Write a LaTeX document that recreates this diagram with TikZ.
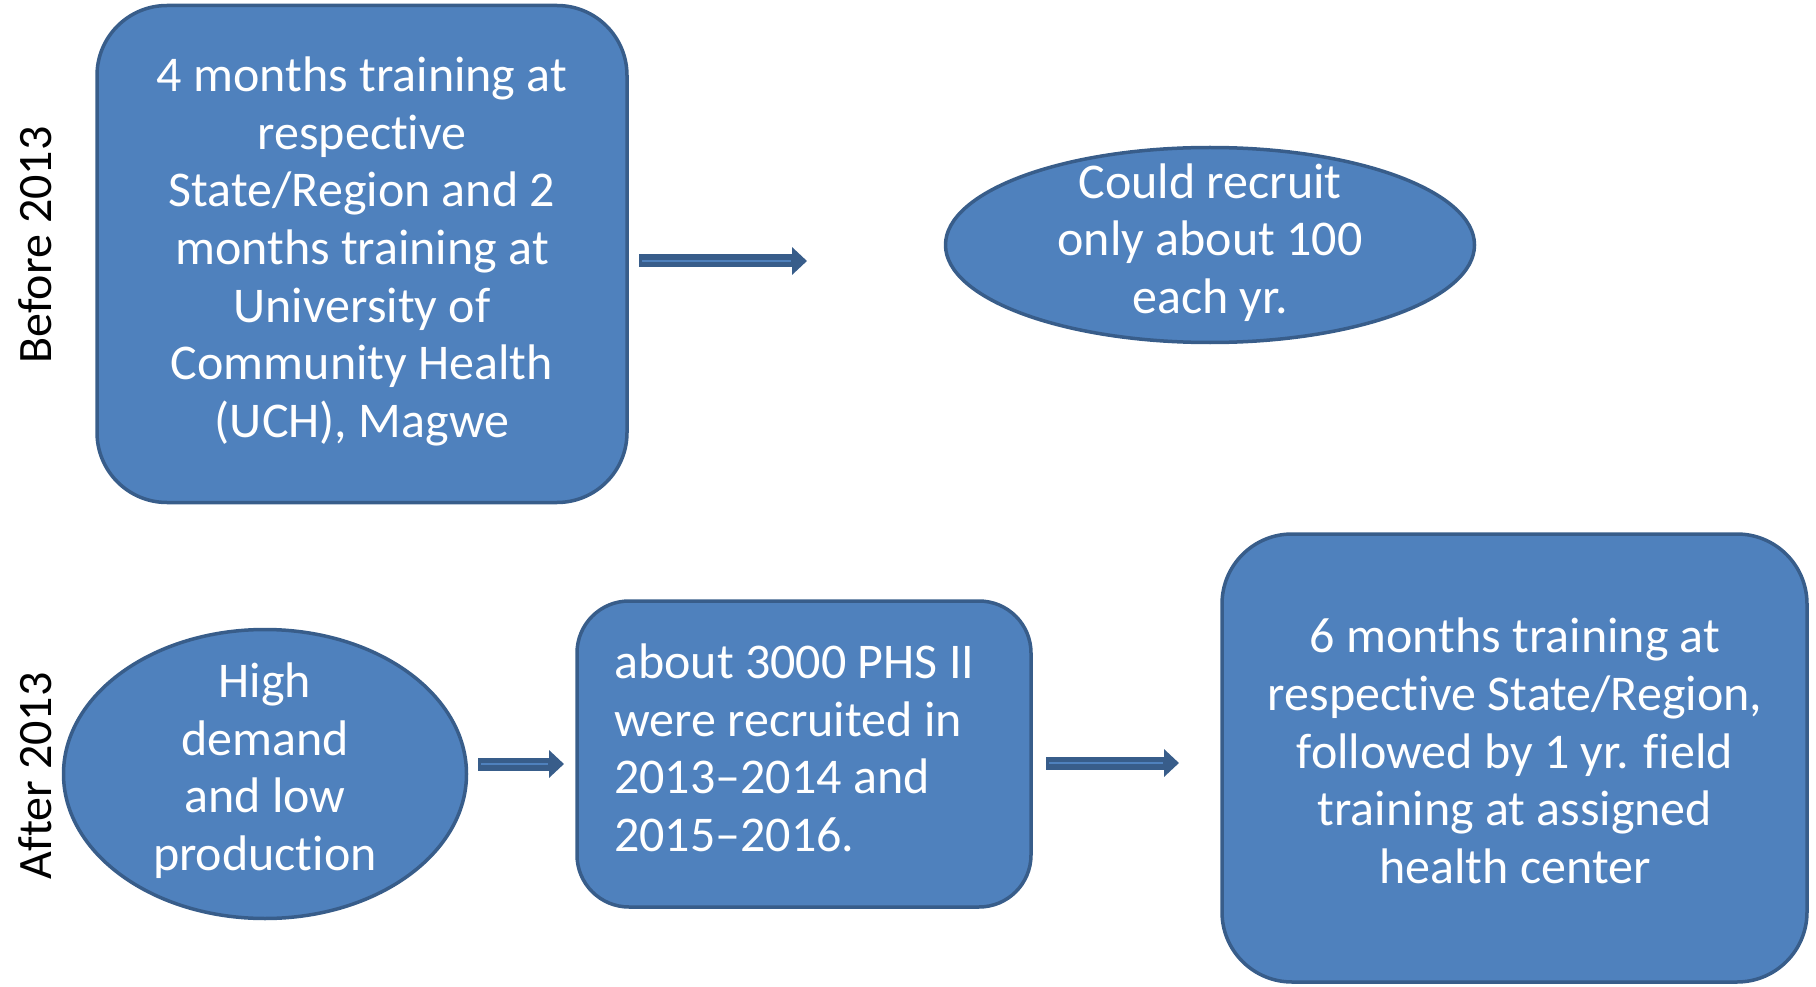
\documentclass[tikz,border=0pt]{standalone}
\usepackage{fontspec}
\setmainfont{Carlito}[Ligatures={NoCommon,NoDiscretionary,NoContextual}]
\usetikzlibrary{shapes.geometric,arrows.meta,calc}
\definecolor{boxfill}{HTML}{4F81BD}
\definecolor{boxline}{HTML}{385D8A}
\tikzset{
  txt/.style={text=white,font=\fontsize{50}{57.6}\selectfont,align=center,inner sep=0pt},
  rbox/.style={draw=boxline,fill=boxfill,line width=3.5pt,inner sep=0pt},
  ebox/.style={ellipse,draw=boxline,fill=boxfill,line width=3.5pt,inner sep=0pt},
  side/.style={text=black,font=\fontsize{48}{56}\selectfont,rotate=90,inner sep=0pt},
  arrdark/.style={draw=boxline,line width=13pt,-{Triangle[length=15pt,width=27pt]}},
  arrlight/.style={draw=boxfill,line width=2.5pt},
}
\begin{document}
\begin{tikzpicture}[x=1pt,y=-1pt]
\useasboundingbox (0,0) rectangle (1816,987);
% rows labels
\node[side] (lb) at (35,245) {Before 2013};
\node[side] (la) at (35,776) {After 2013};
% shapes
\node[rbox,rounded corners=70pt,minimum width=530pt,minimum height=497pt] (b1) at (362,254) {};
\node[ebox,minimum width=529pt,minimum height=195pt] (e1) at (1210,245) {};
\node[ebox,minimum width=403pt,minimum height=289pt] (e2) at (265,774) {};
\node[rbox,rounded corners=52pt,minimum width=454pt,minimum height=306pt] (b2) at (804,754) {};
\node[rbox,rounded corners=70pt,minimum width=585pt,minimum height=448pt] (b3) at (1514.5,758) {};
% texts
\node[txt] (t1) at (362,251.5) {4 months training at\\respective\\State/Region and 2\\months training at\\University of\\Community Health\\(UCH), Magwe};
\node[txt] (t2) at (1210,242.5) {Could recruit\\only about 100\\each yr.};
\node[txt] (t3) at (265,770.5) {High\\demand\\and low\\production};
\node[txt,align=left,anchor=west] (t4) at (614,748) {about 3000 PHS II\\were recruited in\\2013--2014 and\\2015--2016.};
\node[txt] (t5) at (1515,751) {6 months training at\\respective State/Region,\\followed by 1 yr. field\\training at assigned\\health center};
% arrows
\coordinate (a1s) at (639,261); \coordinate (a1e) at (807,261);
\coordinate (a2s) at (478,764); \coordinate (a2e) at (564,764);
\coordinate (a3s) at (1046,763); \coordinate (a3e) at (1179,763);
\foreach \s/\e in {a1s/a1e,a2s/a2e,a3s/a3e}{
  \draw[arrdark] (\s) -- (\e);
  \draw[arrlight] ($(\s)+(3,0)$) -- ($(\e)+(-16,0)$);
}
\end{tikzpicture}
\end{document}
